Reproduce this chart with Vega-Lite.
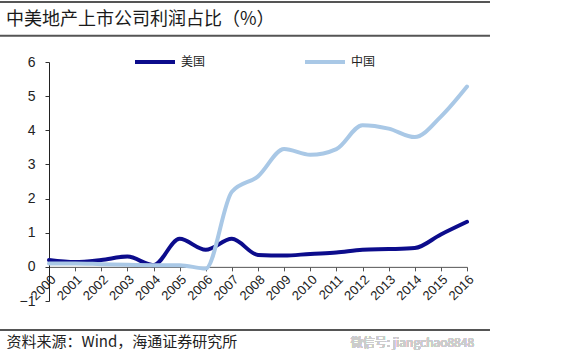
{
  "$schema": "https://vega.github.io/schema/vega-lite/v6.json",
  "width": 418,
  "height": 239,
  "autosize": "none",
  "padding": {"left": 49, "top": 62, "right": 109, "bottom": 54},
  "background": "white",
  "config": {
    "font": "Noto Sans CJK SC",
    "view": {"stroke": null},
    "axis": {"labelOverlap": false, "labelBound": false}
  },
  "title": {
    "text": "中美地产上市公司利润占比（%）",
    "anchor": "start",
    "frame": "group",
    "fontSize": 18,
    "fontWeight": "normal",
    "color": "#1a1a1a",
    "dx": -43,
    "offset": -28
  },
  "data": {
    "values": [
      {"year": 2000, "country": "美国", "value": 0.2},
      {"year": 2001, "country": "美国", "value": 0.14},
      {"year": 2002, "country": "美国", "value": 0.2},
      {"year": 2003, "country": "美国", "value": 0.3},
      {"year": 2004, "country": "美国", "value": 0.05},
      {"year": 2005, "country": "美国", "value": 0.82},
      {"year": 2006, "country": "美国", "value": 0.5},
      {"year": 2007, "country": "美国", "value": 0.82},
      {"year": 2008, "country": "美国", "value": 0.35},
      {"year": 2009, "country": "美国", "value": 0.33},
      {"year": 2010, "country": "美国", "value": 0.38},
      {"year": 2011, "country": "美国", "value": 0.42},
      {"year": 2012, "country": "美国", "value": 0.5},
      {"year": 2013, "country": "美国", "value": 0.52},
      {"year": 2014, "country": "美国", "value": 0.55},
      {"year": 2015, "country": "美国", "value": 0.95},
      {"year": 2016, "country": "美国", "value": 1.32},
      {"year": 2000, "country": "中国", "value": 0.1},
      {"year": 2001, "country": "中国", "value": 0.1},
      {"year": 2002, "country": "中国", "value": 0.08},
      {"year": 2003, "country": "中国", "value": 0.06},
      {"year": 2004, "country": "中国", "value": 0.05},
      {"year": 2005, "country": "中国", "value": 0.05},
      {"year": 2006, "country": "中国", "value": -0.05},
      {"year": 2007, "country": "中国", "value": 2.2},
      {"year": 2008, "country": "中国", "value": 2.65},
      {"year": 2009, "country": "中国", "value": 3.45},
      {"year": 2010, "country": "中国", "value": 3.28},
      {"year": 2011, "country": "中国", "value": 3.45},
      {"year": 2012, "country": "中国", "value": 4.15},
      {"year": 2013, "country": "中国", "value": 4.05},
      {"year": 2014, "country": "中国", "value": 3.8},
      {"year": 2015, "country": "中国", "value": 4.4},
      {"year": 2016, "country": "中国", "value": 5.28}
    ]
  },
  "layer": [
    {
      "mark": {"type": "line", "interpolate": "monotone", "strokeWidth": 4, "strokeCap": "round"},
      "encoding": {
        "x": {
          "field": "year",
          "type": "quantitative",
          "scale": {"domain": [2000, 2016], "nice": false, "zero": false},
          "axis": {
            "values": [2000, 2001, 2002, 2003, 2004, 2005, 2006, 2007, 2008, 2009, 2010, 2011, 2012, 2013, 2014, 2015, 2016],
            "format": "d",
            "offset": -34.14,
            "labelAngle": -45,
            "labelFontSize": 13,
            "labelFont": "Liberation Sans",
            "labelColor": "#222",
            "labelPadding": 2,
            "labelFlush": false,
            "labelOverlap": false,
            "tickSize": 4,
            "tickColor": "#555",
            "domainColor": "#555",
            "grid": false,
            "title": "资料来源：Wind，海通证券研究所",
            "titleAnchor": "start",
            "titleX": -43,
            "titleY": 68,
            "titleBaseline": "top",
            "titleFontSize": 15,
            "titleFontWeight": "normal",
            "titleColor": "#222"
          }
        },
        "y": {
          "field": "value",
          "type": "quantitative",
          "scale": {"domain": [-1, 6], "nice": false},
          "axis": {
            "values": [-1, 0, 1, 2, 3, 4, 5, 6],
            "title": null,
            "grid": false,
            "labelOverlap": false,
            "labelFontSize": 14,
            "labelFont": "Liberation Sans",
            "labelColor": "#222",
            "labelPadding": 10,
            "tickSize": 4,
            "tickColor": "#333",
            "domainColor": "#222"
          }
        },
        "color": {
          "field": "country",
          "type": "nominal",
          "scale": {"domain": ["美国", "中国"], "range": ["#0c0c8c", "#a9c8e6"]},
          "legend": {
            "title": null,
            "orient": "none",
            "direction": "horizontal",
            "legendX": 84,
            "legendY": -22,
            "symbolType": "stroke",
            "symbolSize": 1600,
            "symbolStrokeWidth": 4,
            "labelFontSize": 12,
            "labelColor": "#222",
            "labelOffset": 4,
            "columnPadding": 91
          }
        }
      }
    },
    {
      "data": {"values": [{"pos": 6.77}, {"pos": 7.76}, {"pos": -1.85}]},
      "mark": {"type": "rule", "color": "#555", "strokeWidth": 2, "clip": false},
      "encoding": {
        "x": {
          "datum": 1998.12,
          "type": "quantitative",
          "axis": {
            "values": [2000, 2001, 2002, 2003, 2004, 2005, 2006, 2007, 2008, 2009, 2010, 2011, 2012, 2013, 2014, 2015, 2016],
            "format": "d",
            "offset": -34.14,
            "labelAngle": -45,
            "labelFontSize": 13,
            "labelFont": "Liberation Sans",
            "labelColor": "#222",
            "labelPadding": 2,
            "labelFlush": false,
            "labelOverlap": false,
            "tickSize": 4,
            "tickColor": "#555",
            "domainColor": "#555",
            "grid": false,
            "title": "资料来源：Wind，海通证券研究所",
            "titleAnchor": "start",
            "titleX": -43,
            "titleY": 68,
            "titleBaseline": "top",
            "titleFontSize": 15,
            "titleFontWeight": "normal",
            "titleColor": "#222"
          }
        },
        "x2": {"datum": 2016.88},
        "y": {
          "field": "pos",
          "type": "quantitative",
          "axis": {
            "values": [-1, 0, 1, 2, 3, 4, 5, 6],
            "title": null,
            "grid": false,
            "labelOverlap": false,
            "labelFontSize": 14,
            "labelFont": "Liberation Sans",
            "labelColor": "#222",
            "labelPadding": 10,
            "tickSize": 4,
            "tickColor": "#333",
            "domainColor": "#222"
          }
        }
      }
    },
    {
      "mark": {"type": "text", "align": "left", "baseline": "middle", "fontSize": 12, "color": "#cccccc", "clip": false},
      "encoding": {
        "x": {
          "datum": 2011.55,
          "type": "quantitative",
          "axis": {
            "values": [2000, 2001, 2002, 2003, 2004, 2005, 2006, 2007, 2008, 2009, 2010, 2011, 2012, 2013, 2014, 2015, 2016],
            "format": "d",
            "offset": -34.14,
            "labelAngle": -45,
            "labelFontSize": 13,
            "labelFont": "Liberation Sans",
            "labelColor": "#222",
            "labelPadding": 2,
            "labelFlush": false,
            "labelOverlap": false,
            "tickSize": 4,
            "tickColor": "#555",
            "domainColor": "#555",
            "grid": false,
            "title": "资料来源：Wind，海通证券研究所",
            "titleAnchor": "start",
            "titleX": -43,
            "titleY": 68,
            "titleBaseline": "top",
            "titleFontSize": 15,
            "titleFontWeight": "normal",
            "titleColor": "#222"
          }
        },
        "y": {
          "datum": -2.23,
          "type": "quantitative",
          "axis": {
            "values": [-1, 0, 1, 2, 3, 4, 5, 6],
            "title": null,
            "grid": false,
            "labelOverlap": false,
            "labelFontSize": 14,
            "labelFont": "Liberation Sans",
            "labelColor": "#222",
            "labelPadding": 10,
            "tickSize": 4,
            "tickColor": "#333",
            "domainColor": "#222"
          }
        },
        "text": {"value": "微信号: jiangchao8848"}
      }
    }
  ]
}
